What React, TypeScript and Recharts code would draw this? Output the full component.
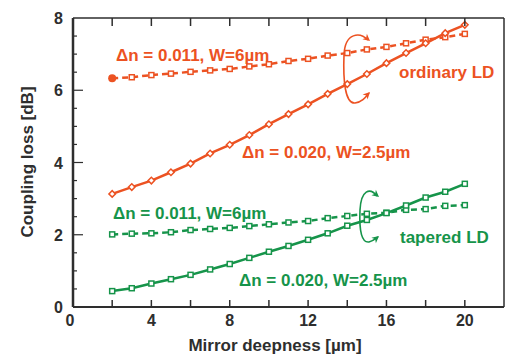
import React from "react";
import { LineChart, Line, XAxis, YAxis } from "recharts";

const depth = [2, 3, 4, 5, 6, 7, 8, 9, 10, 11, 12, 13, 14, 15, 16, 17, 18, 19, 20];
const ordinaryNarrow = [3.13, 3.32, 3.5, 3.73, 3.97, 4.25, 4.49, 4.76, 5.06, 5.34, 5.61, 5.9, 6.17, 6.45, 6.75, 7.03, 7.3, 7.58, 7.81];
const ordinaryWide = [6.33, 6.36, 6.42, 6.46, 6.51, 6.55, 6.59, 6.66, 6.72, 6.81, 6.87, 6.96, 7.03, 7.13, 7.2, 7.3, 7.4, 7.47, 7.56];
const taperedNarrow = [0.44, 0.52, 0.65, 0.77, 0.89, 1.04, 1.19, 1.36, 1.53, 1.69, 1.86, 2.04, 2.25, 2.41, 2.6, 2.81, 3.03, 3.19, 3.41];
const taperedWide = [2.01, 2.03, 2.04, 2.07, 2.13, 2.16, 2.19, 2.24, 2.29, 2.34, 2.38, 2.46, 2.52, 2.58, 2.61, 2.69, 2.71, 2.8, 2.82];

const xTicks = [0, 2, 4, 6, 8, 10, 12, 14, 16, 18, 20];
const yTicks = [0, 0.5, 1, 1.5, 2, 2.5, 3, 3.5, 4, 4.5, 5, 5.5, 6, 6.5, 7, 7.5, 8];

const data = depth.map((d, i) => ({
  d,
  on: ordinaryNarrow[i],
  ow: ordinaryWide[i],
  tn: taperedNarrow[i],
  tw: taperedWide[i],
}));

const ORANGE = "#ec5222";
const GREEN = "#16944a";
const DARK = "#2e2e2e";
const FONT = "'Liberation Sans', Arial, sans-serif";

function bottomTick(props: any) {
  const { x, y, payload } = props;
  const v = payload.value;
  return (
    <g>
      {v > 0 && <line x1={x} x2={x} y1={y} y2={y - 7} stroke={DARK} strokeWidth={1.5} />}
      {v % 4 === 0 && (
        <text x={v === 0 ? x - 3 : x} y={y + 19} textAnchor="middle" fontSize={16} fontWeight="bold" fill={DARK} fontFamily={FONT}>
          {v}
        </text>
      )}
    </g>
  );
}

function topTick(props: any) {
  const { x, y, payload } = props;
  if (payload.value === 0) return <g />;
  return <line x1={x} x2={x} y1={y} y2={y + 8} stroke={DARK} strokeWidth={1.5} />;
}

function leftTick(props: any) {
  const { x, y, payload } = props;
  const v = payload.value;
  const major = v % 2 === 0;
  return (
    <g>
      {v > 0 && v < 8 && <line x1={x} x2={x + (major ? 10 : 4)} y1={y} y2={y} stroke={DARK} strokeWidth={1.2} />}
      {major && (
        <text x={x - 10} y={y + 6} textAnchor="end" fontSize={16} fontWeight="bold" fill={DARK} fontFamily={FONT}>
          {v}
        </text>
      )}
    </g>
  );
}

function rightTick(props: any) {
  const { x, y, payload } = props;
  const v = payload.value;
  if (v % 2 !== 0 || v === 0 || v === 8) return <g />;
  return <line x1={x - 10} x2={x} y1={y} y2={y} stroke={DARK} strokeWidth={1.5} />;
}

function makeDot(color: string, shape: "square" | "diamond", firstFilled = false) {
  return (props: any) => {
    const { cx, cy, index } = props;
    if (firstFilled && index === 0) {
      return <circle key={index} cx={cx} cy={cy} r={4} fill={color} />;
    }
    if (shape === "diamond") {
      return (
        <rect key={index} x={cx - 2.3} y={cy - 2.3} width={4.6} height={4.6} fill="#fff" stroke={color} strokeWidth={1.5}
          transform={`rotate(45 ${cx} ${cy})`} />
      );
    }
    return <rect key={index} x={cx - 2.5} y={cy - 2.5} width={5} height={5} fill="#fff" stroke={color} strokeWidth={1.5} />;
  };
}

function Arrow({ d, color, tips }: { d: string; color: string; tips: [number, number, number][] }) {
  return (
    <g>
      <path d={d} fill="none" stroke={color} strokeWidth={1.6} />
      {tips.map(([x, y, a], i) => (
        <path key={i} d="M0,0 L-7,-3.5 L-5,0 L-7,3.5 Z" fill={color} transform={`translate(${x} ${y}) rotate(${a})`} />
      ))}
    </g>
  );
}

export default function App() {
  const txt = { fontSize: 17, fontWeight: "bold" as const, fontFamily: FONT };
  return (
    <div style={{ position: "absolute", left: 0, top: 0, width: 505, height: 356, background: "#fff" }}>
      <LineChart width={505} height={356} data={data} margin={{ top: 0, right: 0, bottom: 0, left: 0 }}>
        <XAxis dataKey="d" type="number" domain={[0, 22]} ticks={xTicks} interval={0} height={49}
          axisLine={{ stroke: DARK, strokeWidth: 2 }} tickLine={false} tickSize={0} tickMargin={0} tick={bottomTick} />
        <XAxis xAxisId="top" dataKey="d" type="number" domain={[0, 22]} ticks={xTicks} interval={0} orientation="top" height={18}
          axisLine={{ stroke: DARK, strokeWidth: 1.5 }} tickLine={false} tickSize={0} tickMargin={0} tick={topTick} />
        <YAxis type="number" domain={[0, 8]} ticks={yTicks} interval={0} width={73}
          axisLine={{ stroke: DARK, strokeWidth: 2.5 }} tickLine={false} tickSize={0} tickMargin={0} tick={leftTick} />
        <YAxis yAxisId="right" orientation="right" type="number" domain={[0, 8]} ticks={yTicks} interval={0} width={1}
          axisLine={{ stroke: DARK, strokeWidth: 1.5 }} tickLine={false} tickSize={0} tickMargin={0} tick={rightTick} />
        <Line dataKey="ow" stroke={ORANGE} strokeWidth={2.5} strokeDasharray="6 4" dot={makeDot(ORANGE, "square", true)} isAnimationActive={false} />
        <Line dataKey="on" stroke={ORANGE} strokeWidth={2.5} dot={makeDot(ORANGE, "diamond")} isAnimationActive={false} />
        <Line dataKey="tw" stroke={GREEN} strokeWidth={2.5} strokeDasharray="6 4" dot={makeDot(GREEN, "square")} isAnimationActive={false} />
        <Line dataKey="tn" stroke={GREEN} strokeWidth={2.5} dot={makeDot(GREEN, "square")} isAnimationActive={false} />
      </LineChart>
      <svg width={505} height={356} style={{ position: "absolute", left: 0, top: 0, pointerEvents: "none" }}>
        <text x={116} y={61} fill={ORANGE} {...txt}>Δn = 0.011, W=6µm</text>
        <text x={399} y={78} fill={ORANGE} {...txt}>ordinary LD</text>
        <text x={242} y={158} fill={ORANGE} {...txt}>Δn = 0.020, W=2.5µm</text>
        <text x={113} y={219} fill={GREEN} {...txt}>Δn = 0.011, W=6µm</text>
        <text x={400} y={243} fill={GREEN} {...txt}>tapered LD</text>
        <text x={239} y={286} fill={GREEN} {...txt}>Δn = 0.020, W=2.5µm</text>
        <Arrow color={ORANGE} d="M368,40 C360,32 345,32 344,55 C343,80 345,104 355,103 C362,102 365,98 369,93"
          tips={[[370, 41, 40], [370, 92, -45]]} />
        <Arrow color={GREEN} d="M377,196 C370,187 361,190 360,210 C359,232 362,243 369,242 C373,241 375,239 378,237"
          tips={[[379, 197, 40], [379, 236, -40]]} />
        <text transform="translate(33 162) rotate(-90)" textAnchor="middle" fill={DARK} {...txt}>Coupling loss [dB]</text>
        <text x={275} y={351} textAnchor="middle" fill={DARK} {...txt}>Mirror deepness [µm]</text>
      </svg>
    </div>
  );
}
